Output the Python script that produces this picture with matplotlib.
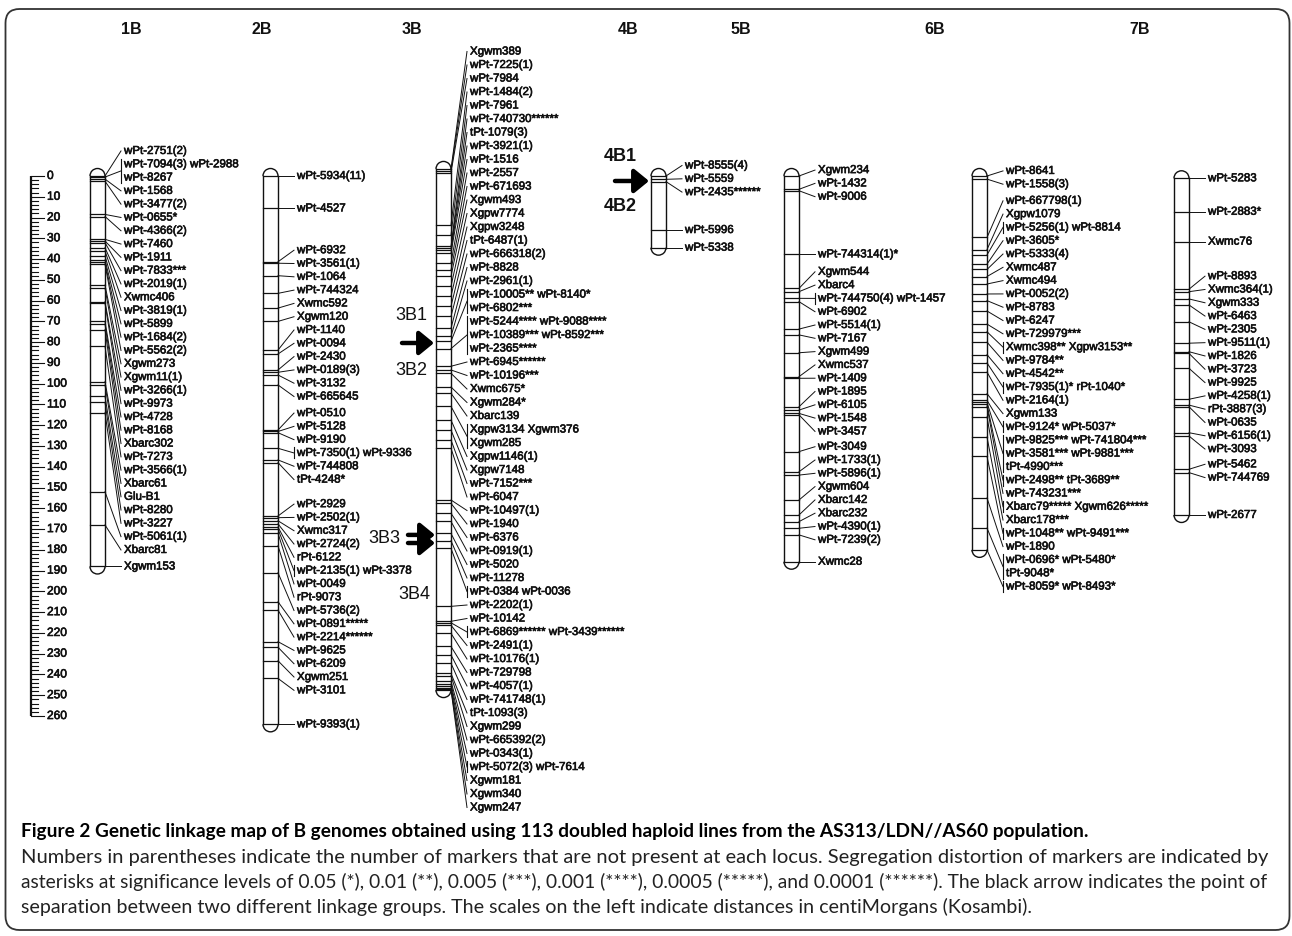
import matplotlib
matplotlib.use("Agg")
import matplotlib.pyplot as plt
import matplotlib.patheffects as pe
from matplotlib.patches import Arc, FancyBboxPatch
from matplotlib.transforms import IdentityTransform

# ------------------------------------------------------------------ data
# marker positions (cM) read from the map, one entry per locus;
# a locus label may hold several lines ("\n") or several markers (" ")
CHROMOSOMES = ["1B", "2B", "3B", "4B", "5B", "6B", "7B"]

POS_1B = [0, 0.5, 1.5, 2.5, 18.5, 19.5, 30.5, 31.3, 32.1, 34.5, 36.1, 38.5,
          40.4, 41.6, 42.5, 52.5, 54, 60.5, 61.3, 70, 71.3, 74, 82, 99, 100.6,
          106, 109, 114, 152, 168, 188]
LAB_1B = ["wPt-2751(2)", "wPt-7094(3) wPt-2988\nwPt-8267", "wPt-1568",
          "wPt-3477(2)", "wPt-0655*", "wPt-4366(2)", "wPt-7460", "wPt-1911",
          "wPt-7833***", "wPt-2019(1)", "Xwmc406", "wPt-3819(1)", "wPt-5899",
          "wPt-1684(2)", "wPt-5562(2)", "Xgwm273", "Xgwm11(1)", "wPt-3266(1)",
          "wPt-9973", "wPt-4728", "wPt-8168", "Xbarc302", "wPt-7273",
          "wPt-3566(1)", "Xbarc61", "Glu-B1", "wPt-8280", "wPt-3227",
          "wPt-5061(1)", "Xbarc81", "Xgwm153"]

POS_2B = [0, 15.6, 41.3, 42, 48, 56.5, 63.6, 70, 83.8, 85.7, 93.4, 94.5, 95.8,
          100.6, 122.3, 123, 123.6, 131.1, 136.7, 138, 163.7, 164.5, 166,
          167.5, 169, 170, 172, 178, 191, 205, 209, 224.2, 226.9, 233.4,
          241.9, 264]
LAB_2B = ["wPt-5934(11)", "wPt-4527", "wPt-6932", "wPt-3561(1)", "wPt-1064",
          "wPt-744324", "Xwmc592", "Xgwm120", "wPt-1140", "wPt-0094",
          "wPt-2430", "wPt-0189(3)", "wPt-3132", "wPt-665645", "wPt-0510",
          "wPt-5128", "wPt-9190", "wPt-7350(1) wPt-9336", "wPt-744808",
          "tPt-4248*", "wPt-2929", "wPt-2502(1)", "Xwmc317", "wPt-2724(2)",
          "rPt-6122", "wPt-2135(1) wPt-3378", "wPt-0049", "rPt-9073",
          "wPt-5736(2)", "wPt-0891*****", "wPt-2214******", "wPt-9625",
          "wPt-6209", "Xgwm251", "wPt-3101", "wPt-9393(1)"]

POS_3B = [0, 0.8, 1.8, 27, 31.8, 37.3, 38.2, 39.2, 40.6, 45.4, 48.7, 51.7,
          56.5, 61.3, 66.1, 71, 76.7, 80.6, 83, 86.5, 95, 96.8, 98.4, 105, 108,
          114.3, 120.9, 125.7, 130.5, 134.5, 159.4, 161, 165.8, 169.7, 175.5,
          179, 182.7, 210.6, 217.8, 218.5, 219.7, 223.6, 229.9, 234, 238,
          242.9, 244, 246.7, 248, 249, 250, 250.5, 250.9]
LAB_3B = ["Xgwm389", "wPt-7225(1)", "wPt-7984", "wPt-1484(2)", "wPt-7961",
          "wPt-740730******", "tPt-1079(3)", "wPt-3921(1)", "wPt-1516",
          "wPt-2557", "wPt-671693", "Xgwm493", "Xgpw7774", "Xgpw3248",
          "tPt-6487(1)", "wPt-666318(2)", "wPt-8828", "wPt-2961(1)",
          "wPt-10005** wPt-8140*\nwPt-6802***",
          "wPt-5244**** wPt-9088****\nwPt-10389*** wPt-8592***\nwPt-2365****",
          "wPt-6945******", "wPt-10196***", "Xwmc675*", "Xgwm284*", "Xbarc139",
          "Xgpw3134 Xgwm376\nXgwm285", "Xgpw1146(1)", "Xgpw7148",
          "wPt-7152***", "wPt-6047", "wPt-10497(1)", "wPt-1940", "wPt-6376",
          "wPt-0919(1)", "wPt-5020", "wPt-11278", "wPt-0384 wPt-0036",
          "wPt-2202(1)", "wPt-10142", "wPt-6869****** wPt-3439******",
          "wPt-2491(1)", "wPt-10176(1)", "wPt-729798", "wPt-4057(1)",
          "wPt-741748(1)", "tPt-1093(3)", "Xgwm299", "wPt-665392(2)",
          "wPt-0343(1)", "wPt-5072(3) wPt-7614", "Xgwm181", "Xgwm340",
          "Xgwm247"]

POS_4B = [0, 1.6, 2.7, 26, 34.5]
LAB_4B = ["wPt-8555(4)", "wPt-5559", "wPt-2435******", "wPt-5996", "wPt-5338"]

POS_5B = [0, 6.4, 7.1, 37.7, 54.1, 55.7, 58.9, 60.5, 73.7, 76.5, 85.1, 96.6,
          97.4, 111.1, 112.7, 114.3, 115, 132.7, 142.4, 144, 156, 163.2, 166.4,
          169.6, 172.8, 185.7]
LAB_5B = ["Xgwm234", "wPt-1432", "wPt-9006", "wPt-744314(1)*", "Xgwm544",
          "Xbarc4", "wPt-744750(4) wPt-1457", "wPt-6902", "wPt-5514(1)",
          "wPt-7167", "Xgwm499", "Xwmc537", "wPt-1409", "wPt-1895", "wPt-6105",
          "wPt-1548", "wPt-3457", "wPt-3049", "wPt-1733(1)", "wPt-5896(1)",
          "Xgwm604", "Xbarc142", "Xbarc232", "wPt-4390(1)", "wPt-7239(2)",
          "Xwmc28"]

POS_6B = [0, 1.5, 29.6, 35.4, 38, 42.4, 45, 48.4, 52, 56.8, 60, 65, 71.3, 75,
          80, 86, 90, 94.4, 104.8, 108, 109, 110, 111, 116, 125.7, 135, 155,
          169.5, 180]
LAB_6B = ["wPt-8641", "wPt-1558(3)", "wPt-667798(1)", "Xgpw1079",
          "wPt-5256(1) wPt-8814", "wPt-3605*", "wPt-5333(4)", "Xwmc487",
          "Xwmc494", "wPt-0052(2)", "wPt-8783", "wPt-6247", "wPt-729979***",
          "Xwmc398** Xgpw3153**", "wPt-9784**", "wPt-4542**",
          "wPt-7935(1)* rPt-1040*", "wPt-2164(1)", "Xgwm133",
          "wPt-9124* wPt-5037*",
          "wPt-9825*** wPt-741804***\nwPt-3581*** wPt-9881***\ntPt-4990***",
          "wPt-2498** tPt-3689**", "wPt-743231***",
          "Xbarc79***** Xgwm626*****", "Xbarc178***", "wPt-1048** wPt-9491***",
          "wPt-1890", "wPt-0696* wPt-5480*\ntPt-9048*", "wPt-8059* wPt-8493*"]

POS_7B = [1.1, 17.2, 31.6, 54.5, 55.7, 59.2, 62.1, 70.2, 80.5, 84.6, 85.4,
          92.6, 107.5, 110.3, 111.1, 123.6, 125.2, 141.2, 142.8, 163.2]
LAB_7B = ["wPt-5283", "wPt-2883*", "Xwmc76", "wPt-8893", "Xwmc364(1)",
          "Xgwm333", "wPt-6463", "wPt-2305", "wPt-9511(1)", "wPt-1826",
          "wPt-3723", "wPt-9925", "wPt-4258(1)", "rPt-3887(3)", "wPt-0635",
          "wPt-6156(1)", "wPt-3093", "wPt-5462", "wPt-744769", "wPt-2677"]

SCALE_MAX_CM = 260
SPLIT_3B12 = [83.8]          # arrow between 3B1 and 3B2 (3B coordinates)
SPLIT_3B34 = [176.2, 180.1]  # double arrow 3B3 / 3B4
SPLIT_4B = [2.4]             # arrow between 4B1 and 4B2

CAPTION_TITLE = ("Figure 2 Genetic linkage map of B genomes obtained using 113 "
                 "doubled haploid lines from the AS313/LDN//AS60 population.")
CAPTION_LINES = [
    "Numbers in parentheses indicate the number of markers that are not present "
    "at each locus. Segregation distortion of markers are indicated by",
    "asterisks at significance levels of 0.05 (*), 0.01 (**), 0.005 (***), "
    "0.001 (****), 0.0005 (*****), and 0.0001 (******). The black arrow "
    "indicates the point of",
    "separation between two different linkage groups. The scales on the left "
    "indicate distances in centiMorgans (Kosambi).",
]

POS = {"1B": POS_1B, "2B": POS_2B, "3B": POS_3B, "4B": POS_4B,
       "5B": POS_5B, "6B": POS_6B, "7B": POS_7B}
LAB = {"1B": LAB_1B, "2B": LAB_2B, "3B": LAB_3B, "4B": LAB_4B,
       "5B": LAB_5B, "6B": LAB_6B, "7B": LAB_7B}

# ------------------------------------------------------------------ layout
W, H, DPI = 1292, 936, 100
Y0_PX, PX_PER_CM = 176.0, 2.077


def px2cm(ypx):
    return (ypx - Y0_PX) / PX_PER_CM


BAR_LEFT = {"1B": 90, "2B": 263, "3B": 436, "4B": 651, "5B": 784,
            "6B": 972, "7B": 1174}
TITLE_X = {"1B": 131, "2B": 262, "3B": 412, "4B": 628, "5B": 741,
           "6B": 935, "7B": 1140}
OFFSET = {"3B": -3.4}
LINE_PX = {"3B": 13.5}
BAR_W = 15
LABEL_GAP = 19
BRACKET_CM = 5.5 / PX_PER_CM
FS = 8.3
FONT = "Liberation Sans"
INK = "#111111"
THICK = [pe.withStroke(linewidth=0.45, foreground=INK)]

fig = plt.figure(figsize=(W / DPI, H / DPI), dpi=DPI)
ax = fig.add_axes([0, 0, 1, 1])
ax.set_xlim(0, W)
ax.set_ylim(px2cm(H), px2cm(0))
ax.axis("off")


def layout_labels(pos, nlines, d):
    """Merge overlapping label groups; each group centred on its marker span."""
    clusters = [[i] for i in range(len(pos))]

    def span(cl):
        n = sum(nlines[i] for i in cl)
        c = (pos[cl[0]] + pos[cl[-1]]) / 2.0
        return c - n * d / 2.0, c + n * d / 2.0

    changed = True
    while changed:
        changed = False
        k = 0
        while k < len(clusters) - 1:
            _, b0 = span(clusters[k])
            t1, _ = span(clusters[k + 1])
            if b0 > t1 + 1e-9:
                clusters[k] = clusters[k] + clusters[k + 1]
                del clusters[k + 1]
                changed = True
            else:
                k += 1
    ys = {}
    for cl in clusters:
        top, _ = span(cl)
        y = top + d / 2.0
        for i in cl:
            ys[i] = [y + j * d for j in range(nlines[i])]
            y += nlines[i] * d
    return ys


# ruler
RX = 31
ax.plot([RX, RX], [0, SCALE_MAX_CM], color=INK, lw=1.6, solid_capstyle="butt")
for v in range(0, SCALE_MAX_CM + 1, 2):
    ln = 13 if v % 10 == 0 else 7
    ax.plot([RX, RX + ln], [v, v], color=INK, lw=0.8)
    if v % 10 == 0:
        ax.text(RX + 16, v, str(v), fontsize=FS + 0.3, family=FONT, color=INK,
                ha="left", va="center", path_effects=THICK)

# chromosomes
for name in CHROMOSOMES:
    off = OFFSET.get(name, 0.0)
    pos = [p + off for p in POS[name]]
    lines = [s.split("\n") for s in LAB[name]]
    nl = [len(x) for x in lines]
    ly = layout_labels(pos, nl, LINE_PX.get(name, 13.3) / PX_PER_CM)

    xl = BAR_LEFT[name]
    xr = xl + BAR_W
    xc = xl + BAR_W / 2.0
    top, bot = min(pos), max(pos)
    ax.plot([xl, xl], [top, bot], color=INK, lw=1.0)
    ax.plot([xr, xr], [top, bot], color=INK, lw=1.0)
    cap_h = BAR_W / PX_PER_CM
    ax.add_patch(Arc((xc, top), BAR_W, cap_h, theta1=180, theta2=360,
                     color=INK, lw=1.0))
    ax.add_patch(Arc((xc, bot), BAR_W, cap_h, theta1=0, theta2=180,
                     color=INK, lw=1.0))
    for p in pos:
        ax.plot([xl, xr], [p, p], color=INK, lw=0.9)

    tx = xr + LABEL_GAP
    for i, p in enumerate(pos):
        ys = ly[i]
        multi = len(ys) > 1 or " " in lines[i][0]
        if multi:
            bx = tx - 3
            ax.plot([bx, bx], [ys[0] - BRACKET_CM, ys[-1] + BRACKET_CM],
                    color=INK, lw=0.8)
            ax.plot([xr, bx], [p, (ys[0] + ys[-1]) / 2.0], color=INK, lw=0.7)
        else:
            ax.plot([xr, tx - 3], [p, ys[0]], color=INK, lw=0.7)
        for s, y in zip(lines[i], ys):
            ax.text(tx, y, s, fontsize=FS, family=FONT, color=INK,
                    ha="left", va="center", path_effects=THICK)

    ax.text(TITLE_X[name], px2cm(29), name, fontsize=11.5, fontweight="bold",
            family=["Liberation Sans Narrow", "Liberation Sans"],
            color=INK, ha="center", va="center")


def arrow(x0, x1, y):
    ax.annotate("", xy=(x1, y), xytext=(x0, y),
                arrowprops=dict(arrowstyle="-|>,head_length=0.55,head_width=0.45",
                                lw=3.2, color="black", mutation_scale=16,
                                shrinkA=0, shrinkB=0))


# 3B split arrows
off3 = OFFSET["3B"]
for s in SPLIT_3B12:
    y = s + off3
    arrow(402, BAR_LEFT["3B"] - 2, y)
    ax.text(411, y - 27 / PX_PER_CM, "3B1", fontsize=13, family=FONT,
            color=INK, ha="center", va="center")
    ax.text(411, y + 28 / PX_PER_CM, "3B2", fontsize=13, family=FONT,
            color=INK, ha="center", va="center")
for s in SPLIT_3B34:
    arrow(408, BAR_LEFT["3B"] - 1, s + off3)
ym = (SPLIT_3B34[0] + SPLIT_3B34[-1]) / 2 + off3
ax.text(384, ym, "3B3", fontsize=13, family=FONT, color=INK,
        ha="center", va="center")
ax.text(414, ym + 56 / PX_PER_CM, "3B4", fontsize=13, family=FONT,
        color=INK, ha="center", va="center")

# 4B split arrow
for s in SPLIT_4B:
    arrow(615, BAR_LEFT["4B"] - 2, s)
    ax.text(620, s - 24 / PX_PER_CM, "4B1", fontsize=13, fontweight="bold",
            family=FONT, color=INK, ha="center", va="center")
    ax.text(620, s + 26 / PX_PER_CM, "4B2", fontsize=13, fontweight="bold",
            family=FONT, color=INK, ha="center", va="center")

# frame
frame = FancyBboxPatch((5.5, H - 930), W - 8, 921,
                       boxstyle="round,pad=0,rounding_size=14",
                       transform=IdentityTransform(), fill=False,
                       ec="#333333", lw=1.3)
fig.add_artist(frame)

# caption
renderer = fig.canvas.get_renderer()


def fitted(x_px, y_px, s, target_w, **kw):
    t = fig.text(x_px / W, 1 - y_px / H, s, fontsize=12, ha="left",
                 va="center", **kw)
    w = t.get_window_extent(renderer).width
    t.set_fontsize(12 * target_w / w)
    return t


fitted(21, 832, CAPTION_TITLE, 1059, family="Lato", fontweight="bold",
       color="black")
ta = fitted(21, 857, CAPTION_LINES[0], 1243, family="Lato", color="#222222")
tb = fitted(21, 882, CAPTION_LINES[1], 1242, family="Lato", color="#222222")
body_fs = (ta.get_fontsize() + tb.get_fontsize()) / 2
fig.text(21 / W, 1 - 907 / H, CAPTION_LINES[2], fontsize=body_fs,
         family="Lato", color="#222222", ha="left", va="center")

fig.savefig("out.png", dpi=DPI, facecolor="white")
